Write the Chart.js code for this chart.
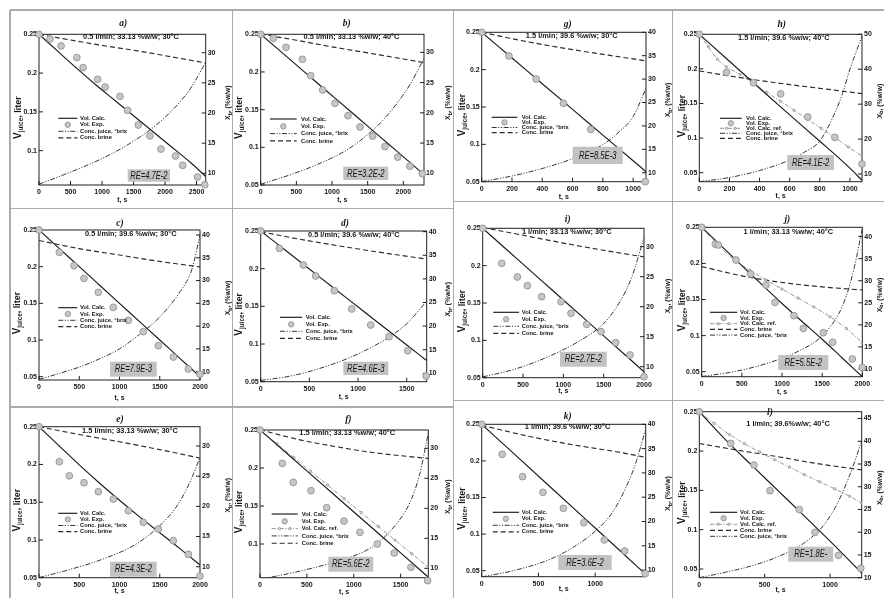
<!DOCTYPE html>
<html>
<head>
<meta charset="utf-8">
<script src="https://cdn.jsdelivr.net/npm/chart.js@4.4.1/dist/chart.umd.min.js"></script>
<style>
  html, body { margin: 0; padding: 0; background: #fff; }
  body { position: relative; width: 884px; height: 598px; overflow: hidden; }
  canvas { position: absolute; }
  .rule { position: absolute; background: #ababab; z-index: 5; }
</style>
</head>
<body>
<script>
// ---------- tick values ----------
const ticksX2500 = [0, 500, 1000, 1500, 2000, 2500];
const ticksX2000 = [0, 500, 1000, 1500, 2000];
const ticksX1500 = [0, 500, 1000, 1500];
const ticksX1000 = [0, 500, 1000];
const ticksX200 = [0, 200, 400, 600, 800, 1000];
const ticksVol = [0.05, 0.1, 0.15, 0.2, 0.25];
const ticksVolHi = [0.1, 0.15, 0.2, 0.25];
const ticksConc30 = [10, 15, 20, 25, 30];
const ticksConc40 = [10, 15, 20, 25, 30, 35, 40];
const ticksConc45 = [10, 15, 20, 25, 30, 35, 40, 45];
const ticksConc50 = [10, 20, 30, 40, 50];

// ---------- series: [t (s), value] ----------
// a) 0.5 l/min; 33.13 %w/w; 30°C
const aVolCalc = [[0,0.25],[300,0.228],[600,0.206],[900,0.185],[1200,0.165],[1500,0.145],[1800,0.125],[2100,0.105],[2400,0.085],[2640,0.067]];
const aVolExp = [[0,0.25],[175,0.244],[350,0.235],[600,0.22],[700,0.207],[930,0.192],[1050,0.182],[1285,0.17],[1405,0.152],[1575,0.133],[1760,0.119],[1935,0.102],[2165,0.093],[2280,0.081],[2515,0.066],[2630,0.056]];
const aJuice = [[0,8.2],[400,9.8],[800,11.5],[1200,13.5],[1600,16.0],[1800,17.5],[2000,19.3],[2200,21.4],[2400,24.0],[2640,28.3]];
const aBrine = [[0,33.0],[500,32.1],[1000,31.2],[1500,30.4],[2000,29.5],[2640,28.3]];

// b) 0.5 l/min; 33.13 %w/w; 40°C
const bVolCalc = [[0,0.25],[300,0.2256],[600,0.2012],[900,0.1768],[1200,0.1525],[1500,0.1281],[1800,0.1037],[2100,0.0793],[2270,0.0655]];
const bVolExp = [[0,0.25],[178,0.2447],[355,0.2327],[584,0.2168],[701,0.1951],[869,0.1761],[1042,0.1584],[1224,0.142],[1393,0.127],[1570,0.115],[1743,0.101],[1921,0.087],[2093,0.075],[2266,0.065]];
const bJuice = [[0,8.2],[400,9.7],[800,11.5],[1200,13.8],[1500,16.4],[1700,18.6],[1900,21.4],[2100,24.8],[2290,29.0]];
const bBrine = [[0,33.0],[500,32.0],[1000,30.9],[1500,29.9],[2000,28.9],[2290,28.3]];

// c) 0.5 l/min; 39.6 %w/w; 30°C
const cVolCalc = [[0,0.25],[250,0.225],[500,0.2],[750,0.175],[1000,0.15],[1250,0.125],[1500,0.1],[1750,0.075],[2000,0.05]];
const cVolExp = [[0,0.25],[253,0.2195],[435,0.2014],[559,0.184],[737,0.165],[923,0.1445],[1110,0.1268],[1296,0.1114],[1482,0.0923],[1669,0.0768],[1855,0.0605],[2000,0.0536]];
const cJuice = [[0,8.3],[250,9.6],[500,11.0],[750,12.8],[1000,15.0],[1250,18.2],[1500,22.0],[1750,27.5],[1900,32.5],[2000,40.0]];
const cBrine = [[0,38.8],[500,37.0],[1000,35.6],[1500,34.2],[2000,33.0]];

// d) 0.5 l/min; 39.6 %w/w; 40°C
const dVolCalc = [[0,0.25],[300,0.2198],[600,0.1895],[900,0.1593],[1200,0.129],[1500,0.0988],[1705,0.078]];
const dVolExp = [[0,0.25],[192,0.227],[438,0.2049],[565,0.1903],[757,0.1708],[935,0.1465],[1130,0.1252],[1318,0.1097],[1510,0.0911],[1699,0.0575]];
const dJuice = [[0,8.5],[300,9.4],[600,11.0],[900,13.2],[1200,16.2],[1320,17.7],[1500,20.5],[1705,25.3]];
const dBrine = [[0,40.0],[400,38.4],[800,37.0],[1200,35.7],[1705,34.2]];

// e) 1.5 l/min; 33.13 %w/w; 30°C
const eVolCalc = [[0,0.25],[250,0.2245],[500,0.1995],[750,0.1755],[1000,0.1525],[1250,0.1305],[1500,0.1095],[1750,0.0885],[2000,0.0668]];
const eVolExp = [[0,0.25],[253,0.2036],[377,0.185],[559,0.1758],[737,0.1639],[923,0.1542],[1110,0.1387],[1296,0.1233],[1482,0.1145],[1669,0.099],[1855,0.0809],[2000,0.0522]];
const eJuice = [[0,8.2],[400,9.6],[800,11.3],[1200,13.7],[1500,16.8],[1700,19.8],[1800,22.0],[1900,24.8],[2000,28.1]];
const eBrine = [[0,33.2],[500,31.9],[1000,30.7],[1500,29.4],[2000,28.0]];

// f) 1.5 l/min; 33.13 %w/w; 40°C
const fVolCalc = [[0,0.25],[300,0.2177],[600,0.1853],[900,0.153],[1200,0.1207],[1500,0.0884],[1790,0.057]];
const fVolRef = [[0,0.25],[180,0.2319],[360,0.2138],[540,0.1957],[720,0.1776],[900,0.1595],[1080,0.1414],[1260,0.1233],[1440,0.1052],[1620,0.0871],[1790,0.070]];
const fVolExp = [[0,0.25],[238,0.2061],[355,0.1811],[544,0.1702],[711,0.1478],[896,0.1302],[1066,0.1154],[1251,0.1],[1432,0.0882],[1610,0.0693],[1788,0.0518]];
const fJuice = [[0,8.2],[300,9.1],[600,10.2],[900,11.5],[1200,13.6],[1400,16.4],[1600,21.0],[1700,25.5],[1795,32.5]];
const fBrine = [[0,33.1],[400,31.5],[800,30.3],[1200,29.3],[1795,28.3]];

// g) 1.5 l/min; 39.6 %w/w; 30°C
const gVolCalc = [[0,0.25],[200,0.2156],[400,0.1812],[600,0.1468],[800,0.1124],[1000,0.078],[1085,0.0634]];
const gVolExp = [[0,0.25],[180,0.2183],[360,0.1875],[540,0.155],[720,0.12],[900,0.0902],[1080,0.05]];
const gJuice = [[0,8.1],[200,9.3],[400,10.9],[600,13.0],[800,16.0],[900,18.5],[1000,22.0],[1085,28.0]];
const gBrine = [[0,40.0],[300,38.0],[600,36.3],[900,34.8],[1085,33.9]];

// h) 1.5 l/min; 39.6 %w/w; 40°C
const hVolCalc = [[0,0.25],[200,0.211],[400,0.172],[600,0.1335],[800,0.0955],[1000,0.0565],[1080,0.039]];
const hVolRef = [[0,0.25],[60,0.232],[120,0.214],[180,0.203],[270,0.192],[360,0.179],[450,0.166],[540,0.153],[630,0.140],[720,0.127],[810,0.114],[900,0.101],[990,0.087],[1080,0.074]];
const hVolExp = [[0,0.25],[180,0.195],[360,0.18],[540,0.164],[720,0.1305],[900,0.101],[1080,0.0625]];
const hJuice = [[0,7.8],[200,9.0],[400,11.0],[600,14.0],[700,16.3],[800,19.5],[900,27.5],[950,33],[1000,40],[1080,49.5]];
const hBrine = [[0,39.5],[300,37.4],[600,35.6],[900,34.0],[1080,33.0]];

// i) 1 l/min; 33.13 %w/w; 30°C
const iVolCalc = [[0,0.25],[250,0.226],[500,0.202],[750,0.178],[1000,0.154],[1250,0.130],[1500,0.106],[1750,0.082],[2000,0.058]];
const iVolExp = [[0,0.25],[236,0.2031],[430,0.1848],[554,0.1732],[731,0.1585],[971,0.1518],[1095,0.1362],[1289,0.1214],[1467,0.1116],[1649,0.0969],[1826,0.0804],[2000,0.0513]];
const iJuice = [[0,8.3],[400,9.6],[800,11.6],[1200,14.3],[1500,17.2],[1700,20.8],[1850,25.0],[2000,31.5]];
const iBrine = [[0,33.2],[500,31.9],[1000,30.6],[1500,29.4],[2000,28.3]];

// j) 1 l/min; 33.13 %w/w; 40°C
const jVolCalc = [[0,0.25],[250,0.2235],[500,0.197],[750,0.1705],[1000,0.1445],[1250,0.1195],[1500,0.095],[1750,0.069],[2000,0.043]];
const jVolRef = [[0,0.25],[200,0.2255],[400,0.2055],[600,0.1905],[800,0.177],[1000,0.1645],[1200,0.152],[1400,0.1395],[1600,0.126],[1800,0.110],[2000,0.090]];
const jVolExp = [[0,0.25],[170,0.2265],[207,0.2255],[427,0.2047],[610,0.1853],[801,0.170],[913,0.146],[1149,0.1276],[1266,0.110],[1515,0.104],[1631,0.0907],[1876,0.0676],[2000,0.056]];
const jJuice = [[0,8.3],[400,9.4],[800,11.2],[1200,14.0],[1500,17.5],[1700,22.3],[1800,26.5],[1900,33.0],[2000,41.8]];
const jBrine = [[0,33.2],[500,31.1],[1000,29.6],[1500,28.6],[2000,27.9]];

// k) 1 l/min; 39.6 %w/w; 30°C
const kVolCalc = [[0,0.25],[300,0.2075],[600,0.165],[900,0.1225],[1200,0.080],[1445,0.045]];
const kVolExp = [[0,0.25],[180,0.209],[360,0.1785],[540,0.157],[720,0.1352],[900,0.1156],[1080,0.092],[1260,0.0769],[1440,0.046]];
const kJuice = [[0,8.6],[300,10.0],[600,12.2],[800,14.6],[1000,18.0],[1150,21.8],[1250,26.0],[1350,31.5],[1445,39.0]];
const kBrine = [[0,39.8],[400,37.6],[800,35.8],[1200,34.3],[1445,33.2]];

// l) 1 l/min; 39.6 %w/w; 40°C
const lVolCalc = [[0,0.25],[200,0.2145],[400,0.182],[600,0.150],[800,0.118],[1000,0.0855],[1242,0.045]];
const lVolRef = [[0,0.25],[115,0.235],[230,0.221],[345,0.2095],[460,0.199],[575,0.189],[690,0.1795],[805,0.170],[920,0.161],[1035,0.152],[1150,0.1425],[1242,0.134]];
const lVolExp = [[0,0.25],[240,0.2097],[418,0.1822],[541,0.1496],[765,0.1256],[885,0.0966],[1064,0.0674],[1235,0.051]];
const lJuice = [[0,10.0],[200,11.2],[400,12.6],[600,14.6],[800,17.6],[950,21.5],[1050,26.0],[1150,32.5],[1242,40.0]];
const lBrine = [[0,39.5],[300,38.0],[600,36.6],[900,35.1],[1242,33.7]];

// ---------- text ----------
const LABELS = {
  calc: 'Vol. Calc.',
  exp: 'Vol. Exp.',
  ref: 'Vol. Calc. ref.',
  juice: 'Conc. juice, °brix',
  brine: 'Conc. brine'
};

// ---------- styles ----------
const FONT = '"Liberation Sans", Arial, sans-serif';
const INK = '#161616';
const STY = {
  calc:  { color: '#1a1a1a', width: 1.15, dash: [] },
  juice: { color: '#2a2a2a', width: 0.95, dash: [5, 1.6, 1.1, 1.6, 1.1, 1.6] },
  brine: { color: '#2a2a2a', width: 1.15, dash: [5, 3] },
  ref:   { color: '#8a8a8a', width: 0.9, dash: [4, 1.5, 1, 1.5] }
};

// ---------- panel layout ----------
const panels = [
  { letter: 'a)', sub: '0.5 l/min; 33.13 %w/w; 30°C', re: 'RE=4.7E-2',
    cell: [10, 10, 232, 208], plot: [39, 34.3, 205.7, 185],
    x: [0, 2645], yl: [0.0557, 0.25], yr: [8.07, 33.04],
    xt: ticksX2500, ylt: ticksVolHi, yrt: ticksConc30,
    s: { calc: aVolCalc, exp: aVolExp, juice: aJuice, brine: aBrine },
    leg: { order: ['calc', 'exp', 'juice', 'brine'], x0: 58.3, x1: 77.3, tx: 80, y0: 118.3, dy: 6.5 },
    reBox: [127.7, 169.3, 170, 181.7], letterAt: [123.3, 23.3], subAt: [131, 36.5], xTitleY: 200,
    ltx: 17, rtx: 226.7 },
  { letter: 'b)', sub: '0.5 l/min; 33.13 %w/w; 40°C', re: 'RE=3.2E-2',
    cell: [232, 10, 453, 208], plot: [260.7, 34.3, 424, 185],
    x: [0, 2290], yl: [0.05, 0.25], yr: [8.07, 32.98],
    xt: ticksX2000, ylt: ticksVol, yrt: ticksConc30,
    s: { calc: bVolCalc, exp: bVolExp, juice: bJuice, brine: bBrine },
    leg: { order: ['calc', 'exp', 'juice', 'brine'], x0: 270, x1: 296.7, tx: 301, y0: 119, dy: 7.3 },
    reBox: [343.3, 166.7, 388.3, 180], letterAt: [346.7, 23.3], subAt: [351.5, 37], xTitleY: 200,
    ltx: 238.5, rtx: 446.7 },
  { letter: 'c)', sub: '0.5 l/min; 39.6 %w/w; 30°C', re: 'RE=7.9E-3',
    cell: [10, 208, 232, 407], plot: [39, 230, 200, 380],
    x: [0, 2000], yl: [0.0455, 0.25], yr: [8.17, 41.1],
    xt: ticksX2000, ylt: ticksVol, yrt: ticksConc40,
    s: { calc: cVolCalc, exp: cVolExp, juice: cJuice, brine: cBrine },
    leg: { order: ['calc', 'exp', 'juice', 'brine'], x0: 58.3, x1: 77.3, tx: 80, y0: 307.7, dy: 6.3 },
    reBox: [110, 361.7, 156.7, 376.7], letterAt: [120, 223.3], subAt: [130.8, 233.5], xTitleY: 398.3,
    ltx: 16, rtx: 226.7 },
  { letter: 'd)', sub: '0.5 l/min; 39.6 %w/w; 40°C', re: 'RE=4.6E-3',
    cell: [232, 208, 453, 407], plot: [260.7, 231, 426.7, 381.7],
    x: [0, 1705], yl: [0.05, 0.25], yr: [8.23, 40.14],
    xt: ticksX1500, ylt: ticksVol, yrt: ticksConc40,
    s: { calc: dVolCalc, exp: dVolExp, juice: dJuice, brine: dBrine },
    leg: { order: ['calc', 'exp', 'juice', 'brine'], x0: 280, x1: 302.3, tx: 305.7, y0: 317.3, dy: 7 },
    reBox: [343.3, 361.7, 388.3, 375], letterAt: [345, 223.3], subAt: [353.8, 235], xTitleY: 397,
    ltx: 238.5, rtx: 446.7 },
  { letter: 'e)', sub: '1.5 l/min; 33.13 %w/w; 30°C', re: 'RE=4.3E-2',
    cell: [10, 407, 232, 598], plot: [39, 426.7, 200, 577.7],
    x: [0, 2000], yl: [0.05, 0.25], yr: [8.18, 33.2],
    xt: ticksX2000, ylt: ticksVol, yrt: ticksConc30,
    s: { calc: eVolCalc, exp: eVolExp, juice: eJuice, brine: eBrine },
    leg: { order: ['calc', 'exp', 'juice', 'brine'], x0: 58.3, x1: 77.3, tx: 80, y0: 513.3, dy: 6.1 },
    reBox: [110, 561.7, 156.7, 576.7], letterAt: [120, 420], subAt: [130, 431], xTitleY: 590.7,
    ltx: 16, rtx: 226.7 },
  { letter: 'f)', sub: '1.5 l/min; 33.13 %w/w; 40°C', re: 'RE=5.6E-2',
    cell: [232, 407, 453, 598], plot: [260, 430, 428.3, 577.7],
    x: [0, 1795], yl: [0.0557, 0.25], yr: [8.44, 33.05],
    xt: ticksX1500, ylt: ticksVolHi, yrt: ticksConc30,
    s: { calc: fVolCalc, exp: fVolExp, ref: fVolRef, juice: fJuice, brine: fBrine },
    leg: { order: ['calc', 'exp', 'ref', 'juice', 'brine'], x0: 271.7, x1: 297.7, tx: 301.7, y0: 514, dy: 7.3 },
    reBox: [328.3, 556.7, 373.3, 571.7], letterAt: [348.3, 420], subAt: [347.2, 433.3], xTitleY: 591.7,
    ltx: 238.5, rtx: 446.7 },
  { letter: 'g)', sub: '1.5 l/min; 39.6 %w/w; 30°C', re: 'RE=8.5E-3',
    cell: [453, 10, 672, 201], plot: [481.7, 32.3, 646, 181.7],
    x: [0, 1085], yl: [0.05, 0.25], yr: [8.08, 40],
    xt: ticksX200, ylt: ticksVol, yrt: ticksConc40,
    s: { calc: gVolCalc, exp: gVolExp, juice: gJuice, brine: gBrine },
    leg: { order: ['calc', 'exp', 'juice', 'brine'], x0: 491.7, x1: 517.3, tx: 521.7, y0: 117.3, dy: 5.1 },
    reBox: [572.7, 146.7, 622.7, 164], letterAt: [567.7, 25], subAt: [571.7, 36], xTitleY: 196.7,
    ltx: 461.5, rtx: 666.7 },
  { letter: 'h)', sub: '1.5 l/min; 39.6 %w/w; 40°C', re: 'RE=4.1E-2',
    cell: [672, 10, 884, 201], plot: [699.3, 34.3, 862, 181.7],
    x: [0, 1080], yl: [0.037, 0.25], yr: [7.8, 50],
    xt: ticksX200, ylt: ticksVol, yrt: ticksConc50,
    s: { calc: hVolCalc, exp: hVolExp, ref: hVolRef, juice: hJuice, brine: hBrine },
    leg: { order: ['calc', 'exp', 'ref', 'juice', 'brine'], x0: 720, x1: 741.7, tx: 746, y0: 118.3, dy: 5 },
    reBox: [787.3, 155, 834, 170], letterAt: [781.7, 25], subAt: [783.8, 37.7], xTitleY: 196,
    ltx: 681, rtx: 878 },
  { letter: 'i)', sub: '1 l/min; 33.13 %w/w; 30°C', re: 'RE=2.7E-2',
    cell: [453, 201, 672, 400], plot: [482.7, 228.3, 644, 377.7],
    x: [0, 2000], yl: [0.05, 0.25], yr: [8.17, 33.06],
    xt: ticksX2000, ylt: ticksVol, yrt: ticksConc30,
    s: { calc: iVolCalc, exp: iVolExp, juice: iJuice, brine: iBrine },
    leg: { order: ['calc', 'exp', 'juice', 'brine'], x0: 493.3, x1: 519, tx: 521.7, y0: 312.3, dy: 7 },
    reBox: [560, 351.7, 606.7, 366.7], letterAt: [567.7, 220], subAt: [566.7, 231.7], xTitleY: 391,
    ltx: 461.5, rtx: 666.7 },
  { letter: 'j)', sub: '1 l/min; 33.13 %w/w; 40°C', re: 'RE=5.5E-2',
    cell: [672, 201, 884, 400], plot: [701.7, 227.3, 862.3, 376.7],
    x: [0, 2000], yl: [0.0431, 0.25], yr: [8.26, 42.1],
    xt: ticksX2000, ylt: ticksVol, yrt: ticksConc40,
    s: { calc: jVolCalc, exp: jVolExp, ref: jVolRef, juice: jJuice, brine: jBrine },
    leg: { order: ['calc', 'exp', 'ref', 'brine', 'juice'], x0: 710, x1: 737.3, tx: 740, y0: 312.3, dy: 5.7 },
    reBox: [778.3, 355, 828.3, 370], letterAt: [787.3, 220], subAt: [788.3, 231.7], xTitleY: 391.7,
    ltx: 681, rtx: 878 },
  { letter: 'k)', sub: '1 l/min; 39.6 %w/w; 30°C', re: 'RE=3.6E-2',
    cell: [453, 400, 672, 598], plot: [481.7, 424.3, 645.7, 576.7],
    x: [0, 1445], yl: [0.0418, 0.25], yr: [8.64, 40],
    xt: ticksX1000, ylt: ticksVol, yrt: ticksConc40,
    s: { calc: kVolCalc, exp: kVolExp, juice: kJuice, brine: kBrine },
    leg: { order: ['calc', 'exp', 'juice', 'brine'], x0: 492.7, x1: 519, tx: 521.7, y0: 512.3, dy: 6.5 },
    reBox: [558.3, 555, 611.7, 570], letterAt: [567.7, 416.7], subAt: [567.5, 426.7], xTitleY: 589,
    ltx: 461.5, rtx: 666.7 },
  { letter: 'l)', sub: '1 l/min; 39.6%w/w; 40°C', re: 'RE=1.8E-',
    cell: [672, 400, 884, 598], plot: [699.3, 411.7, 861.7, 577.7],
    x: [0, 1242], yl: [0.039, 0.25], yr: [10, 46.5],
    xt: ticksX1000, ylt: ticksVol, yrt: ticksConc45,
    s: { calc: lVolCalc, exp: lVolExp, ref: lVolRef, juice: lJuice, brine: lBrine },
    leg: { order: ['calc', 'exp', 'ref', 'brine', 'juice'], x0: 710, x1: 737.3, tx: 740, y0: 512.3, dy: 6 },
    reBox: [788.3, 546.7, 833.3, 561.7], letterAt: [770, 413], subAt: [788, 424.3], xTitleY: 590,
    ltx: 681, rtx: 878 }
];

// Table rules separating the panels
const rules = [
  [10, 9.3, 874, 1.6], [9.3, 10, 1.6, 588],
  [231.5, 10, 1.6, 588], [452.7, 10, 1.6, 588], [671.8, 10, 1.6, 588],
  [10, 207.6, 443, 1.6], [10, 406.2, 443, 1.6],
  [453, 200.6, 431, 1.6], [453, 399.6, 431, 1.6]
];

const toXY = arr => arr.map(p => ({ x: p[0], y: p[1] }));

function vertTitle(ctx, cx, cy, parts) {
  ctx.save();
  ctx.translate(cx, cy);
  ctx.rotate(-Math.PI / 2);
  let total = 0;
  parts.forEach(p => { ctx.font = 'bold ' + p.size + 'px ' + FONT; p.w = ctx.measureText(p.t).width; total += p.w; });
  let x = -total / 2;
  ctx.textAlign = 'left';
  ctx.textBaseline = 'alphabetic';
  ctx.fillStyle = INK;
  parts.forEach(p => { ctx.font = 'bold ' + p.size + 'px ' + FONT; ctx.fillText(p.t, x, 3.5 + (p.dy || 0)); x += p.w; });
  ctx.restore();
}

function decorPlugin(P) {
  const ox = P.cell[0], oy = P.cell[1];
  return {
    id: 'panelDecor',
    beforeDatasetsDraw(chart) {
      const ctx = chart.ctx, ca = chart.chartArea;
      const xs = chart.scales.x, yl = chart.scales.yl, yr = chart.scales.yr;
      ctx.save();
      ctx.strokeStyle = '#1e1e1e';
      ctx.lineWidth = 1;
      ctx.setLineDash([]);
      ctx.strokeRect(ca.left, ca.top, ca.right - ca.left, ca.bottom - ca.top);
      ctx.beginPath();
      P.xt.forEach(v => { const px = xs.getPixelForValue(v); ctx.moveTo(px, ca.bottom); ctx.lineTo(px, ca.bottom - 4); });
      P.ylt.forEach(v => { const py = yl.getPixelForValue(v); ctx.moveTo(ca.left, py); ctx.lineTo(ca.left + 4, py); });
      P.yrt.forEach(v => { const py = yr.getPixelForValue(v); ctx.moveTo(ca.right, py); ctx.lineTo(ca.right - 4, py); });
      ctx.stroke();
      ctx.restore();
    },
    afterDraw(chart) {
      const ctx = chart.ctx, ca = chart.chartArea;
      ctx.save();
      ctx.fillStyle = INK;
      // panel letter and run conditions
      ctx.textAlign = 'center';
      ctx.textBaseline = 'middle';
      ctx.font = 'bold italic 9.5px "Liberation Serif", "Times New Roman", serif';
      ctx.fillText(P.letter, P.letterAt[0] - ox, P.letterAt[1] - oy);
      ctx.font = 'bold 7.4px ' + FONT;
      ctx.fillText(P.sub, P.subAt[0] - ox, P.subAt[1] - oy);
      // x axis title
      ctx.font = 'bold 7px ' + FONT;
      ctx.fillText('t, s', (ca.left + ca.right) / 2, P.xTitleY - oy);
      // y axis titles
      const cyMid = (ca.top + ca.bottom) / 2;
      vertTitle(ctx, P.ltx - ox, cyMid + 8, [
        { t: 'V', size: 10 }, { t: 'juice', size: 6.4, dy: 2.4 }, { t: ', liter', size: 9 }
      ]);
      vertTitle(ctx, P.rtx - ox, cyMid - 7, [
        { t: 'X', size: 6.8 }, { t: 'b', size: 5.2, dy: 1.6 }, { t: ', (%w/w)', size: 6.8 }
      ]);
      // legend
      const L = P.leg;
      ctx.textAlign = 'left';
      ctx.textBaseline = 'middle';
      L.order.forEach((k, i) => {
        const y = L.y0 + i * L.dy - oy;
        const x0 = L.x0 - ox, x1 = L.x1 - ox;
        if (k === 'exp') {
          ctx.beginPath();
          ctx.setLineDash([]);
          ctx.arc((x0 + x1) / 2, y, 2.7, 0, Math.PI * 2);
          ctx.fillStyle = '#c6c6c6';
          ctx.fill();
          ctx.strokeStyle = '#8c8c8c';
          ctx.lineWidth = 0.8;
          ctx.stroke();
        } else {
          const st = STY[k];
          ctx.beginPath();
          ctx.setLineDash(st.dash);
          ctx.strokeStyle = st.color;
          ctx.lineWidth = st.width;
          ctx.moveTo(x0, y);
          ctx.lineTo(x1, y);
          ctx.stroke();
          ctx.setLineDash([]);
          if (k === 'ref') {
            [x0 + (x1 - x0) * 0.3, x0 + (x1 - x0) * 0.7].forEach(mx => {
              ctx.beginPath();
              ctx.arc(mx, y, 1.2, 0, Math.PI * 2);
              ctx.fillStyle = '#dedede';
              ctx.fill();
              ctx.strokeStyle = '#7a7a7a';
              ctx.lineWidth = 0.6;
              ctx.stroke();
            });
          }
        }
        ctx.fillStyle = INK;
        ctx.font = 'bold 5.8px ' + FONT;
        ctx.fillText(LABELS[k], L.tx - ox, y);
      });
      // relative error box
      const b = P.reBox;
      ctx.fillStyle = '#c2c2c2';
      ctx.fillRect(b[0] - ox, b[1] - oy, b[2] - b[0], b[3] - b[1]);
      ctx.save();
      ctx.translate((b[0] + b[2]) / 2 - ox, (b[1] + b[3]) / 2 - oy + 0.5);
      ctx.scale(0.76, 1);
      ctx.textAlign = 'center';
      ctx.textBaseline = 'middle';
      ctx.fillStyle = INK;
      ctx.font = 'italic 10px ' + FONT;
      ctx.fillText(P.re, 0, 0);
      ctx.restore();
      ctx.restore();
    }
  };
}

function lineSet(key, data, axis) {
  const st = STY[key];
  return {
    label: LABELS[key], data: toXY(data), yAxisID: axis,
    borderColor: st.color, borderWidth: st.width, borderDash: st.dash,
    pointRadius: 0, fill: false, cubicInterpolationMode: 'monotone'
  };
}

function axis(pos, range, ticks, fixed, pad) {
  const o = {
    type: 'linear', position: pos, min: range[0], max: range[1],
    grid: { display: false, drawTicks: false },
    border: { display: false },
    afterBuildTicks: s => { s.ticks = ticks.map(v => ({ value: v })); },
    ticks: {
      autoSkip: false, maxRotation: 0, padding: pad, color: INK,
      font: { family: FONT, size: 7, weight: 'bold' },
      callback: v => String(v)
    }
  };
  if (pos === 'bottom') o.afterFit = s => { s.height = fixed; };
  else o.afterFit = s => { s.width = fixed; };
  return o;
}

function buildPanel(P) {
  const [cx0, cy0, cx1, cy1] = P.cell;
  const [pl, pt, pr, pb] = P.plot;
  const YL = 24, YR = 16, XH = 12;
  const W = cx1 - cx0, H = cy1 - cy0;
  const cv = document.createElement('canvas');
  cv.width = W; cv.height = H;
  cv.style.left = cx0 + 'px'; cv.style.top = cy0 + 'px';
  cv.style.width = W + 'px'; cv.style.height = H + 'px';
  document.body.appendChild(cv);

  const datasets = [{
    label: LABELS.exp, data: toXY(P.s.exp), yAxisID: 'yl', showLine: false,
    pointRadius: 3.4, pointStyle: 'circle', pointBackgroundColor: '#c6c6c6',
    pointBorderColor: '#8c8c8c', pointBorderWidth: 0.8, clip: false
  }];
  datasets.push(lineSet('calc', P.s.calc, 'yl'));
  if (P.s.ref) {
    const r = lineSet('ref', P.s.ref, 'yl');
    r.pointRadius = 1.2; r.pointBackgroundColor = '#dedede';
    r.pointBorderColor = '#7a7a7a'; r.pointBorderWidth = 0.6;
    datasets.push(r);
  }
  datasets.push(lineSet('juice', P.s.juice, 'yr'));
  datasets.push(lineSet('brine', P.s.brine, 'yr'));

  new Chart(cv, {
    type: 'line',
    data: { datasets },
    options: {
      responsive: false, animation: false, devicePixelRatio: 1, events: [],
      layout: { padding: { left: pl - cx0 - YL, right: cx1 - pr - YR, top: pt - cy0, bottom: cy1 - pb - XH } },
      plugins: { legend: { display: false }, tooltip: { enabled: false }, title: { display: false } },
      scales: {
        x: axis('bottom', P.x, P.xt, XH, 3),
        yl: axis('left', P.yl, P.ylt, YL, 2),
        yr: axis('right', P.yr, P.yrt, YR, 2)
      }
    },
    plugins: [decorPlugin(P)]
  });
}

panels.forEach(buildPanel);

rules.forEach(r => {
  const d = document.createElement('div');
  d.className = 'rule';
  d.style.left = r[0] + 'px'; d.style.top = r[1] + 'px';
  d.style.width = r[2] + 'px'; d.style.height = r[3] + 'px';
  document.body.appendChild(d);
});
</script>
</body>
</html>
